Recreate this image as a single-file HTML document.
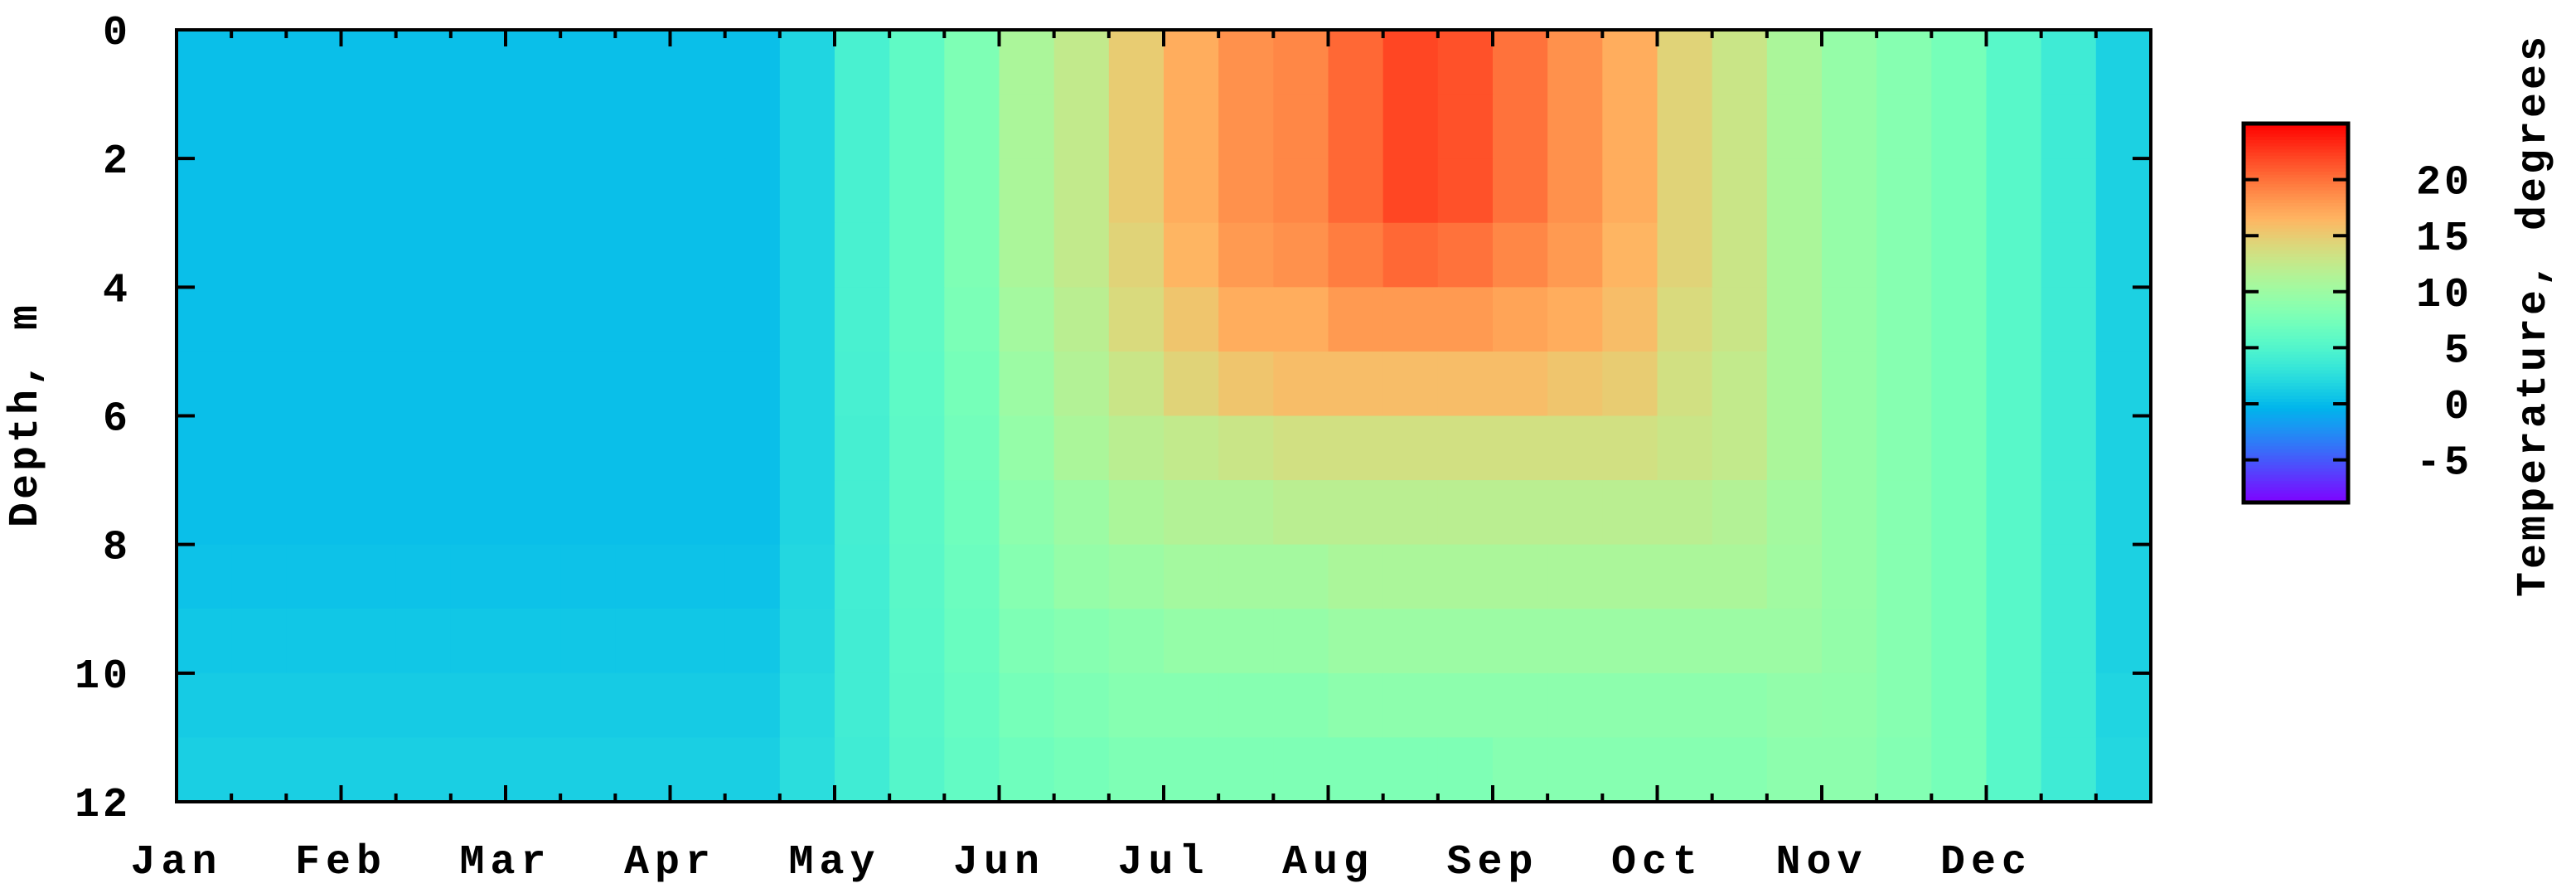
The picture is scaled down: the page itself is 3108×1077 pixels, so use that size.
<!DOCTYPE html>
<html><head><meta charset="utf-8"><style>
html,body{margin:0;padding:0;background:#fff;}
svg{display:block;}
text{font-family:"Liberation Mono",monospace;font-weight:bold;fill:#000;}
</style></head><body>
<svg id="chart" width="3108" height="1077" viewBox="0 0 3108 1077" xmlns="http://www.w3.org/2000/svg">
<g id="cells"></g>
<g id="axes"></g>
<g id="cbar"></g>
<text x="0" y="0" font-size="50" text-anchor="middle" transform="translate(44,500) rotate(-90)" letter-spacing="4">Depth, m</text>
<text x="0" y="0" font-size="50" text-anchor="middle" transform="translate(3070,380) rotate(-90)" letter-spacing="4">Temperature, degrees</text>
</svg>
<script>
const months = ["Jan","Feb","Mar","Apr","May","Jun","Jul","Aug","Sep","Oct","Nov","Dec"];
const depthTicks = [0,2,4,6,8,10,12];
const cbTicks = [-5,0,5,10,15,20];
const W = 0.3;
const row0 = [W,W,W,W,W,W,W,W,W,W,W,1.8, 4.5,6,8, 11,12.5,15, 17,18.5,19, 20.5,22,21.5, 20,18.5,17, 14.5,13,11, 9.5,8.5,7.5, 5.5,3.8,1.5];
const row1 = [W,W,W,W,W,W,W,W,W,W,W,1.8, 4.5,6,8, 11,12.5,15, 17,18.5,19, 20.5,22,21.5, 20,18.5,17, 14.5,13,11, 9.5,8.5,7.5, 5.5,3.8,1.5];
const row2 = [W,W,W,W,W,W,W,W,W,W,W,1.8, 4.5,6,8, 11,12.5,15, 17,18.5,19, 20.5,22,21.5, 20,18.5,17, 14.5,13,11, 9.5,8.5,7.5, 5.5,3.8,1.5];
const row3 = [W,W,W,W,W,W,W,W,W,W,W,1.8, 4.5,6,8, 11,12.5,14.5, 16.5,18,18.5, 19.5,20.5,20, 19,18,16.5, 14.5,13,11, 9.5,8.5,7.5, 5.5,3.8,1.5];
const row4 = [W,W,W,W,W,W,W,W,W,W,W,1.8, 4.5,6,7.8, 10.5,12,14, 15.5,17,17, 18,18,18, 17.5,17,16, 14,13,11, 9.5,8.5,7.5, 5.5,3.8,1.5];
const row5 = [W,W,W,W,W,W,W,W,W,W,W,1.8, 4.4,5.9,7.5, 10,11.5,13, 14.5,15.5,16, 16,16,16, 16,15.5,15, 13.5,12.5,11, 9.5,8.5,7.5, 5.5,3.8,1.5];
const row6 = [W,W,W,W,W,W,W,W,W,W,W,1.8, 4.3,5.8,7.3, 9.5,11,12, 12.5,13,13.5, 13.5,13.5,13.5, 13.5,13.5,13.5, 13,12.5,11, 9.5,8.5,7.5, 5.5,3.8,1.5];
const row7 = [W,W,W,W,W,W,W,W,W,W,W,1.8, 4.2,5.7,7, 9,10,11, 11.5,11.5,12, 12,12,12, 12,12,12, 12,11.5,10.5, 9.5,8.5,7.5, 5.5,3.8,1.5];
const row8 = [0.5,0.5,0.5,0.5,0.5,0.5,0.5,0.5,0.5,0.5,0.5,2, 4.1,5.6,6.8, 8.5,9.5,10, 10.5,10.5,10.5, 11,11,11, 11,11,11, 11,11,10.3, 9.5,8.5,7.5, 5.5,3.8,1.5];
const row9 = [0.8,0.8,0.8,0.8,0.8,0.8,0.8,0.8,0.8,0.8,0.8,2.1, 4,5.5,6.6, 8,8.5,9, 9.5,9.5,9.5, 10,10,10, 10,10,10, 10,10,10, 9.4,8.5,7.5, 5.5,3.8,1.5];
const row10 = [1.1,1.1,1.1,1.1,1.1,1.1,1.1,1.1,1.1,1.1,1.1,2.3, 4,5.4,6.4, 7.5,8,8.5, 8.5,8.5,8.5, 9,9,9, 9,9,9, 9,9,9.3, 9.2,8.5,7.5, 5.5,3.8,1.8];
const row11 = [1.4,1.4,1.4,1.4,1.4,1.4,1.4,1.4,1.4,1.4,1.4,2.5, 3.9,5.3,6.2, 7,7.5,8, 8,8,8, 8,8,8, 8.5,8.5,8.5, 8.5,8.5,9, 9,8.3,7.5, 5.5,3.8,2];
const rows = [row0,row1,row2,row3,row4,row5,row6,row7,row8,row9,row10,row11];
const cbMin = -8.8, cbMax = 25;

const NS = "http://www.w3.org/2000/svg";
const PL = 213, PR = 2595, PT = 36, PB = 967;
const xS = m => PL + (PR - PL) * m / 12;
const yS = d => PT + (PB - PT) * d / 12;
const CBL = 2707, CBR = 2833, CBT = 149, CBB = 606;
const cbY = t => CBB - (CBB - CBT) * (t - cbMin) / (cbMax - cbMin);
function color(t) {
  let x = (t - cbMin) / (cbMax - cbMin); x = Math.max(0, Math.min(1, x));
  const r = Math.min(1, Math.abs(2 * x - 0.5)), g = Math.sin(Math.PI * x), b = Math.cos(Math.PI * x / 2);
  return `rgb(${Math.round(r*255)},${Math.round(Math.max(0,g)*255)},${Math.round(Math.max(0,b)*255)})`;
}
function mk(tag, attrs, parent) {
  const e = document.createElementNS(NS, tag);
  for (const k in attrs) e.setAttribute(k, attrs[k]);
  parent.appendChild(e); return e;
}
const cells = document.getElementById('cells');
rows.forEach((row, di) => {
  const n = row.length;
  row.forEach((t, ci) => {
    const x0 = xS(ci * 12 / n), x1 = xS((ci + 1) * 12 / n);
    const r = mk('rect', {x: x0, y: yS(di), width: x1 - x0 + 0.6, height: yS(di + 1) - yS(di) + 0.6, fill: color(t)}, cells);
    
    
  });
});
const axes = document.getElementById('axes');
const frame = mk('rect', {x: PL, y: PT, width: PR - PL, height: PB - PT, fill: 'none', stroke: '#000', 'stroke-width': 4}, axes);


for (let m = 0; m <= 12; m++) {
  for (let k = 0; k < 3; k++) {
    if (m === 12 && k > 0) break;
    const x = xS(m + k / 3), len = k === 0 ? 20 : 10;
    const t1 = mk('line', {x1: x, x2: x, y1: PB, y2: PB - len, stroke: '#000', 'stroke-width': 4}, axes);
    
    
    const t2 = mk('line', {x1: x, x2: x, y1: PT, y2: PT + len, stroke: '#000', 'stroke-width': 4}, axes);
    
    
  }
}
months.forEach((mo, i) => {
  const t = mk('text', {x: xS(i), y: 1053, 'font-size': 50, 'text-anchor': 'middle', 'letter-spacing': 7}, axes);
  t.textContent = mo;
  
  
});
depthTicks.forEach(d => {
  const y = yS(d);
  const a = mk('line', {x1: PL, x2: PL + 22, y1: y, y2: y, stroke: '#000', 'stroke-width': 4}, axes);
  
  
  const b = mk('line', {x1: PR, x2: PR - 22, y1: y, y2: y, stroke: '#000', 'stroke-width': 4}, axes);
  
  
  const t = mk('text', {x: 158, y: y + 17, 'font-size': 50, 'text-anchor': 'end', 'letter-spacing': 4}, axes);
  t.textContent = d;
  
  
});
const cbar = document.getElementById('cbar');
const steps = 120;
for (let i = 0; i < steps; i++) {
  const t0 = cbMin + (cbMax - cbMin) * i / steps, t1 = cbMin + (cbMax - cbMin) * (i + 1) / steps;
  const r = mk('rect', {x: CBL, y: cbY(t1), width: CBR - CBL, height: cbY(t0) - cbY(t1) + 0.8, fill: color((t0 + t1) / 2)}, cbar);
  
  
}
const cbf = mk('rect', {x: CBL, y: CBT, width: CBR - CBL, height: CBB - CBT, fill: 'none', stroke: '#000', 'stroke-width': 5}, cbar);


cbTicks.forEach(v => {
  const y = cbY(v);
  const a = mk('line', {x1: CBL, x2: CBL + 18, y1: y, y2: y, stroke: '#000', 'stroke-width': 4}, cbar);
  
  
  const b = mk('line', {x1: CBR, x2: CBR - 18, y1: y, y2: y, stroke: '#000', 'stroke-width': 4}, cbar);
  
  
  const t = mk('text', {x: 2983, y: y + 17, 'font-size': 50, 'text-anchor': 'end', 'letter-spacing': 4}, cbar);
  t.textContent = v;
  
  
});
</script>
</body></html>
